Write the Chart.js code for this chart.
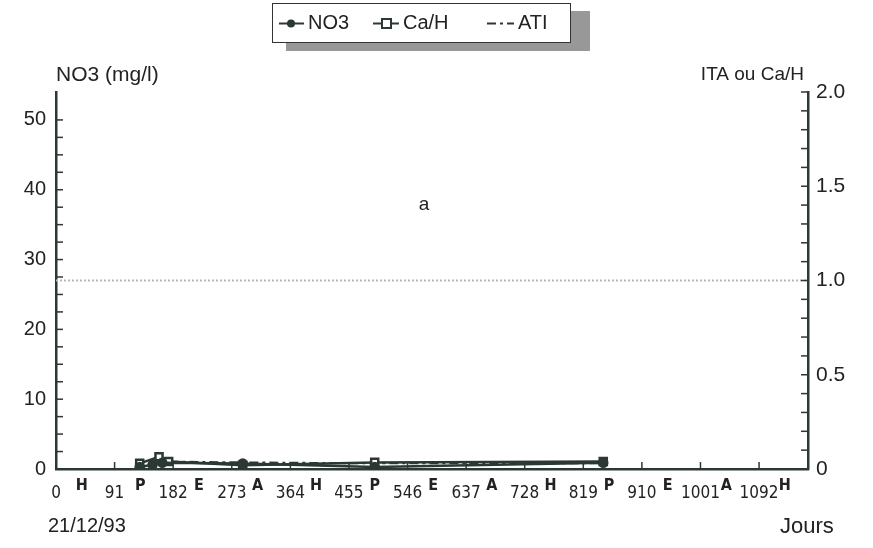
<!DOCTYPE html>
<html>
<head>
<meta charset="utf-8">
<script src="https://cdn.jsdelivr.net/npm/chart.js@4/dist/chart.umd.min.js"></script>
<style>
  html, body { margin: 0; padding: 0; background: #fff; }
  #wrap { width: 873px; height: 548px; }
</style>
</head>
<body>
<div id="wrap"><canvas id="chart" width="873" height="548"></canvas></div>
<script>
// data (days since 21/12/93)
const daysNO3 = [130, 150, 165, 290, 495, 850];
const valNO3 = [0.3, 0.6, 0.9, 0.8, 0.3, 0.9];
const daysCaH = [130, 160, 175, 290, 495, 850];
const valCaH = [0.03, 0.065, 0.04, 0.02, 0.035, 0.04];
const daysATI = [145, 290, 495, 850];
const valATI = [0.04, 0.035, 0.03, 0.03];
const refDays = [0, 1168];
const refVal = [1.0, 1.0];
const xTickDays = [0, 91, 182, 273, 364, 455, 546, 637, 728, 819, 910, 1001, 1092];
const seasons = ['H', 'P', 'E', 'A', 'H', 'P', 'E', 'A', 'H', 'P', 'E', 'A', 'H'];

const ink = '#2b3835';
const toXY = (xs, ys) => xs.map((x, i) => ({ x: x, y: ys[i] }));

const decor = {
    id: 'decor',
    afterDraw(chart) {
        const ctx = chart.ctx;
        const a = chart.chartArea;
        const x = chart.scales.x, y = chart.scales.y, y2 = chart.scales.y2;
        ctx.save();
        ctx.strokeStyle = ink;
        ctx.lineWidth = 1.5;
        // inside tick marks
        y.ticks.forEach(t => {
            if (Math.abs(t.value / 2.5 - Math.round(t.value / 2.5)) > 1e-6) return;
            const py = y.getPixelForValue(t.value);
            ctx.beginPath(); ctx.moveTo(a.left, py); ctx.lineTo(a.left + 7, py); ctx.stroke();
        });
        y2.ticks.forEach(t => {
            const py = y2.getPixelForValue(t.value);
            ctx.beginPath(); ctx.moveTo(a.right - 7, py); ctx.lineTo(a.right, py); ctx.stroke();
        });
        xTickDays.forEach(d => {
            const px = x.getPixelForValue(d);
            ctx.beginPath(); ctx.moveTo(px, a.bottom); ctx.lineTo(px, a.bottom - 7); ctx.stroke();
        });

        // season letters
        ctx.fillStyle = '#222';
        ctx.font = 'bold 16px "Liberation Sans Narrow", "DejaVu Sans Condensed", sans-serif';
        ctx.textAlign = 'center';
        ctx.textBaseline = 'middle';
        seasons.forEach((s, i) => {
            ctx.fillText(s, x.getPixelForValue(xTickDays[i] + 40), a.bottom + 17);
        });

        // titles
        ctx.font = '21px "Liberation Sans", Arial, sans-serif';
        ctx.textAlign = 'left';
        ctx.fillText('NO3 (mg/l)', a.left, 75);
        ctx.font = '19px "Liberation Sans", Arial, sans-serif';
        ctx.textAlign = 'right';
        ctx.fillText('ITA ou Ca/H', a.right - 4, 75);
        ctx.font = '20px "Liberation Sans", Arial, sans-serif';
        ctx.textAlign = 'left';
        ctx.fillText('21/12/93', 48, 526);
        ctx.font = '22px "Liberation Sans", Arial, sans-serif';
        ctx.fillText('Jours', 780, 527);
        ctx.font = '19px "Liberation Sans", Arial, sans-serif';
        ctx.textAlign = 'center';
        ctx.fillText('a', 424, 205);

        // legend box with shadow
        const bx = 272, by = 3, bw = 298, bh = 39;
        ctx.fillStyle = '#989898';
        ctx.fillRect(bx + 14, by + bh, bw + 6, 9);
        ctx.fillRect(bx + bw, by + 8, 20, bh + 1);
        ctx.fillStyle = '#fff';
        ctx.fillRect(bx, by, bw, bh);
        ctx.lineWidth = 1;
        ctx.strokeStyle = '#333';
        ctx.strokeRect(bx + 0.5, by + 0.5, bw, bh);

        const ly = by + bh / 2 + 1;
        ctx.strokeStyle = ink;
        ctx.lineWidth = 2;
        // NO3
        ctx.beginPath(); ctx.moveTo(279, ly); ctx.lineTo(304, ly); ctx.stroke();
        ctx.fillStyle = ink;
        ctx.beginPath(); ctx.arc(291, ly, 4, 0, Math.PI * 2); ctx.fill();
        // Ca/H
        ctx.beginPath(); ctx.moveTo(373, ly); ctx.lineTo(399, ly); ctx.stroke();
        ctx.fillStyle = '#fff';
        ctx.fillRect(382, ly - 4.5, 9, 9);
        ctx.strokeRect(382, ly - 4.5, 9, 9);
        // ATI
        ctx.setLineDash([9, 4, 3, 4]);
        ctx.beginPath(); ctx.moveTo(487, ly); ctx.lineTo(514, ly); ctx.stroke();
        ctx.setLineDash([]);

        ctx.fillStyle = '#222';
        ctx.font = '20px "Liberation Sans", Arial, sans-serif';
        ctx.textAlign = 'left';
        ctx.fillText('NO3', 308, ly);
        ctx.fillText('Ca/H', 403, ly);
        ctx.fillText('ATI', 518, ly);
        ctx.restore();
    }
};

new Chart(document.getElementById('chart'), {
    type: 'line',
    data: {
        datasets: [
            {
                label: 'NO3',
                data: toXY(daysNO3, valNO3),
                yAxisID: 'y',
                borderColor: ink,
                backgroundColor: ink,
                borderWidth: 2.5,
                pointStyle: 'circle',
                pointRadius: 4,
                tension: 0
            },
            {
                label: 'Ca/H',
                data: toXY(daysCaH, valCaH),
                yAxisID: 'y2',
                borderColor: ink,
                backgroundColor: '#fff',
                borderWidth: 2.5,
                pointStyle: 'rect',
                pointRadius: 5,
                tension: 0
            },
            {
                label: 'ATI',
                data: toXY(daysATI, valATI),
                yAxisID: 'y2',
                borderColor: ink,
                borderWidth: 2,
                borderDash: [9, 4, 3, 4],
                pointRadius: 0,
                tension: 0
            },
            {
                label: 'ref',
                data: toXY(refDays, refVal),
                yAxisID: 'y2',
                borderColor: '#b8b8b8',
                borderWidth: 2,
                borderDash: [2, 2],
                pointRadius: 0
            }
        ]
    },
    options: {
        responsive: false,
        animation: false,
        layout: { padding: { left: 0, right: 0, top: 92, bottom: 0 } },
        plugins: {
            legend: { display: false },
            tooltip: { enabled: false }
        },
        scales: {
            x: {
                type: 'linear',
                min: 0,
                max: 1168,
                afterFit: s => { s.height = 79; },
                afterBuildTicks: s => { s.ticks = xTickDays.map(v => ({ value: v })); },
                grid: { display: false, drawTicks: false },
                border: { display: true, color: ink, width: 2.5 },
                ticks: {
                    autoSkip: false,
                    maxRotation: 0,
                    padding: 14,
                    color: '#222',
                    font: { family: '"Liberation Sans Narrow", "DejaVu Sans Condensed", sans-serif', size: 17 },
                    callback: v => String(v)
                }
            },
            y: {
                position: 'left',
                min: 0,
                max: 54,
                afterFit: s => { s.width = 56; },
                grid: { display: false, drawTicks: false },
                border: { display: true, color: ink, width: 2.5 },
                ticks: {
                    stepSize: 2.5,
                    maxTicksLimit: 100,
                    autoSkip: false,
                    padding: 10,
                    color: '#222',
                    font: { family: '"Liberation Sans", Arial, sans-serif', size: 20 },
                    callback: v => (v % 10 === 0 ? String(v) : '')
                }
            },
            y2: {
                position: 'right',
                min: 0,
                max: 2,
                afterFit: s => { s.width = 65; },
                grid: { display: false, drawTicks: false },
                border: { display: true, color: ink, width: 2.5 },
                ticks: {
                    stepSize: 0.1,
                    maxTicksLimit: 100,
                    autoSkip: false,
                    padding: 8,
                    color: '#222',
                    font: { family: '"Liberation Sans", Arial, sans-serif', size: 21 },
                    callback: v => {
                        if (Math.abs(v * 2 - Math.round(v * 2)) > 1e-6) return '';
                        return v === 0 ? '0' : v.toFixed(1);
                    }
                }
            }
        }
    },
    plugins: [decor]
});
</script>
</body>
</html>
